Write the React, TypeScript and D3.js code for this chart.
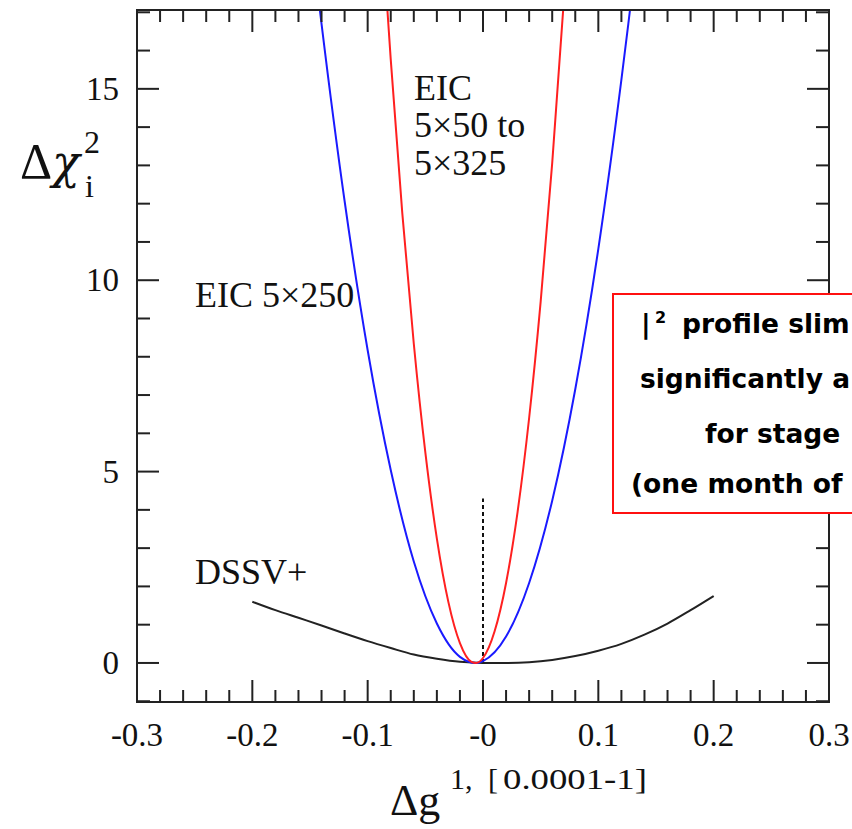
import React from "react";
import * as d3 from "d3";

// Δχ² profiles versus the first moment of Δg over x in [0.0001, 1]
const dssvX = [-0.2, -0.18, -0.16, -0.14, -0.12, -0.1, -0.08, -0.06, -0.04, -0.02, 0.0, 0.02, 0.04, 0.06, 0.08, 0.1, 0.12, 0.14, 0.16, 0.18, 0.2];
const dssvChi = [1.6, 1.38, 1.18, 0.98, 0.77, 0.57, 0.39, 0.22, 0.11, 0.03, 0.0, 0.0, 0.02, 0.08, 0.18, 0.32, 0.5, 0.74, 1.03, 1.38, 1.75];

const eic250X = [-0.144, -0.14, -0.12, -0.1, -0.08, -0.06, -0.04, -0.02, -0.006, 0.0, 0.02, 0.04, 0.06, 0.08, 0.1, 0.12, 0.126, 0.13];
const eic250Chi = [17.7, 16.7, 12.07, 8.17, 5.04, 2.65, 1.03, 0.16, 0.0, 0.05, 0.69, 2.09, 4.24, 7.15, 10.82, 15.24, 16.7, 17.7];

const eicRangeX = [-0.085, -0.08, -0.07, -0.06, -0.05, -0.04, -0.03, -0.02, -0.01, -0.006, 0.0, 0.01, 0.02, 0.03, 0.04, 0.05, 0.06, 0.07, 0.072];
const eicRangeChi = [18.0, 15.77, 11.76, 8.34, 5.5, 3.25, 1.59, 0.52, 0.03, 0.0, 0.13, 0.82, 2.09, 3.95, 6.4, 9.44, 13.06, 17.27, 18.2];

const xMajorTicks = [-0.3, -0.2, -0.1, 0, 0.1, 0.2, 0.3];
const xTickLabels = ["-0.3", "-0.2", "-0.1", "-0", "0.1", "0.2", "0.3"];
const yMajorTicks = [0, 5, 10, 15];
const yTickLabels = ["0", "5", "10", "15"];

const noteLines = ["|", "profile slim", "significantly a", "for stage", "(one month of r"];

const W = 852;
const H = 829;
const left = 137;
const right = 829;
const top = 10;
const bottom = 702;

const serif = "'Liberation Serif', 'Times New Roman', serif";
const greek = "'DejaVu Serif', serif";
const noteFont = "'Comic Sans MS', 'DejaVu Sans', sans-serif";
const axisColor = "#222";

export default function App() {
  const x = d3.scaleLinear().domain([-0.3, 0.3]).range([left, right]);
  const y = d3.scaleLinear().domain([-1.02, 17.06]).range([bottom, top]);

  const xMinor = d3.range(-0.3, 0.3001, 0.02).filter(
    (v) => !xMajorTicks.some((m) => Math.abs(m - v) < 1e-6)
  );
  const yMinor = d3.range(-1, 17.5, 1).filter((v) => !yMajorTicks.includes(v));

  const line = d3
    .line<[number, number]>()
    .x((d) => x(d[0]))
    .y((d) => y(d[1]))
    .curve(d3.curveMonotoneX);

  const zip = (xs: number[], ys: number[]) => xs.map((v, i) => [v, ys[i]] as [number, number]);

  const majorLen = 22;
  const minorLen = 12;

  return (
    <svg
      width={W}
      height={H}
      style={{ position: "absolute", left: 0, top: 0, background: "#fff" }}
    >
      <defs>
        <clipPath id="plot-area">
          <rect x={left} y={top} width={right - left} height={bottom - top} />
        </clipPath>
      </defs>
      <rect x={0} y={0} width={W} height={H} fill="#fff" />

      {/* curves */}
      <g clipPath="url(#plot-area)" fill="none" strokeWidth={2}>
        <line
          x1={x(0)}
          x2={x(0)}
          y1={y(0)}
          y2={y(4.3)}
          stroke="#111"
          strokeWidth={2}
          strokeDasharray="4 3"
        />
        <path d={line(zip(dssvX, dssvChi)) || ""} stroke="#222" />
        <path d={line(zip(eic250X, eic250Chi)) || ""} stroke="#1a1aff" />
        <path d={line(zip(eicRangeX, eicRangeChi)) || ""} stroke="#ff2020" />
      </g>

      {/* frame */}
      <rect
        x={left}
        y={top}
        width={right - left}
        height={bottom - top}
        fill="none"
        stroke={axisColor}
        strokeWidth={2}
      />

      {/* ticks on all four sides, pointing inward */}
      <g stroke={axisColor} strokeWidth={2}>
        {xMajorTicks.map((v) => (
          <g key={"xm" + v}>
            <line x1={x(v)} x2={x(v)} y1={bottom} y2={bottom - majorLen} />
            <line x1={x(v)} x2={x(v)} y1={top} y2={top + majorLen} />
          </g>
        ))}
        {xMinor.map((v) => (
          <g key={"xn" + v}>
            <line x1={x(v)} x2={x(v)} y1={bottom} y2={bottom - minorLen} />
            <line x1={x(v)} x2={x(v)} y1={top} y2={top + minorLen} />
          </g>
        ))}
        {yMajorTicks.map((v) => (
          <g key={"ym" + v}>
            <line x1={left} x2={left + majorLen} y1={y(v)} y2={y(v)} />
            <line x1={right} x2={right - majorLen} y1={y(v)} y2={y(v)} />
          </g>
        ))}
        {yMinor.map((v) => (
          <g key={"yn" + v}>
            <line x1={left} x2={left + minorLen + 1} y1={y(v)} y2={y(v)} />
            <line x1={right} x2={right - minorLen - 1} y1={y(v)} y2={y(v)} />
          </g>
        ))}
      </g>

      {/* tick labels */}
      <g fontFamily={serif} fontSize={33} fill="#111">
        {xMajorTicks.map((v, i) => (
          <text key={"xl" + v} x={x(v)} y={746} textAnchor="middle">
            {xTickLabels[i]}
          </text>
        ))}
        {yMajorTicks.map((v, i) => (
          <text key={"yl" + v} x={119} y={y(v) + 11} textAnchor="end">
            {yTickLabels[i]}
          </text>
        ))}
      </g>

      {/* axis titles */}
      <g fontFamily={serif} fill="#111">
        <text x={20} y={178} fontSize={50}>
          Δ
        </text>
        <text x={52} y={178} fontSize={46} fontFamily={greek} fontStyle="italic">
          χ
        </text>
        <text x={84} y={153} fontSize={32}>
          2
        </text>
        <text x={85} y={197} fontSize={32}>
          i
        </text>
        <text x={390} y={815} fontSize={44}>
          Δg
        </text>
        <text x={450} y={789} fontSize={30}>
          1,
        </text>
        <text x={488} y={789} fontSize={30}>
          [
        </text>
        <text x={503} y={789} fontSize={30} textLength={144} lengthAdjust="spacingAndGlyphs">
          0.0001-1]
        </text>
      </g>

      {/* curve labels */}
      <g fontFamily={serif} fontSize={36} fill="#111">
        <text x={414} y={100}>EIC</text>
        <text x={414} y={137}>5×50 to</text>
        <text x={414} y={175}>5×325</text>
        <text x={195} y={307}>EIC 5×250</text>
        <text x={195} y={584}>DSSV+</text>
      </g>

      {/* annotation box */}
      <rect x={613} y={294} width={300} height={219} fill="#fff" stroke="#ff1010" strokeWidth={2} />
      <g fontFamily={noteFont} fontWeight="bold" fontSize={26.5} fill="#000">
        <text x={641} y={333}>{noteLines[0]}</text>
        <text x={655} y={323} fontSize={16}>2</text>
        <text x={682} y={333}>{noteLines[1]}</text>
        <text x={640} y={388}>{noteLines[2]}</text>
        <text x={705} y={443}>{noteLines[3]}</text>
        <text x={631} y={493}>{noteLines[4]}</text>
      </g>
    </svg>
  );
}
